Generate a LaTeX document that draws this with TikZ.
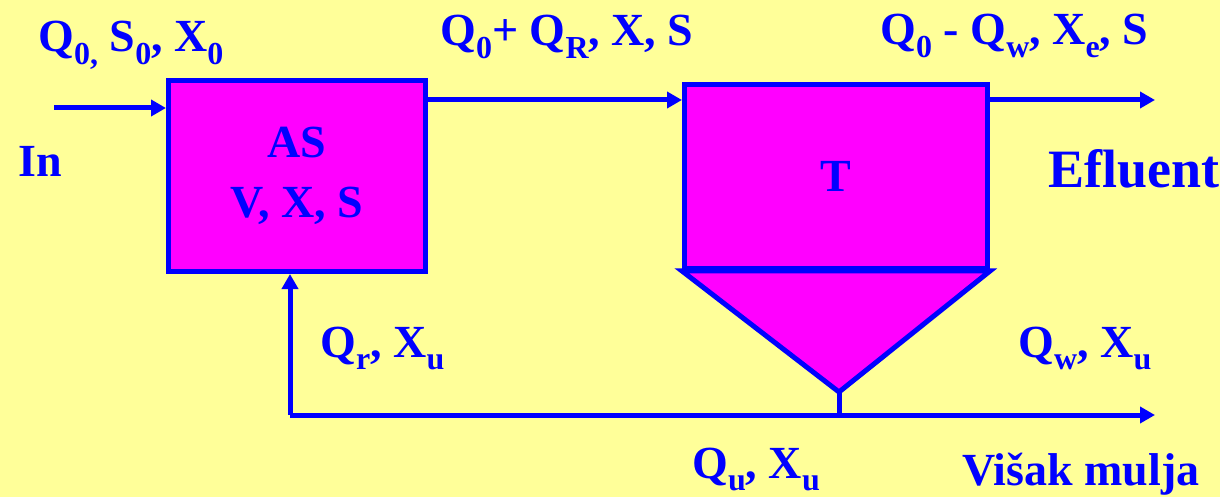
\documentclass[tikz,border=0pt]{standalone}
\usepackage{fontspec}
\setmainfont{Liberation Serif}
\usetikzlibrary{arrows.meta}
\definecolor{bgyellow}{HTML}{FFFF99}
\definecolor{tank}{HTML}{FF00FF}
\definecolor{ink}{HTML}{0000FF}
\newcommand{\low}[1]{\raisebox{-0.28em}{\fontsize{16}{16}\selectfont #1}}

\begin{document}
\begin{tikzpicture}[x=0.5pt, y=-0.5pt,
    txt/.style={text=ink, font=\bfseries\fontsize{23}{30}\selectfont, inner sep=0pt, anchor=base west},
    unit/.style={draw=ink, fill=tank, line width=2.5pt, text=ink, align=center,
        font=\bfseries\fontsize{23}{30}\selectfont},
    pipe/.style={draw=ink, line width=2.5pt},
    flow/.style={pipe, -{Triangle[length=7.5pt,width=8pt]}}
]
\useasboundingbox[fill=bgyellow] (0,0) rectangle (1220,497);

% aeration tank and settler
\node[unit, minimum width=128.5pt, minimum height=95.5pt] (as) at (297,176) {AS\\V, X, S};
\node[unit, minimum width=151.5pt, minimum height=92pt] (t) at (836,176.5) {T};
\coordinate (apex) at (839,392);
\draw[pipe, fill=tank] (t.south west) -- (t.south east) -- (apex) -- cycle;

% flows
\coordinate (in) at (54,108);
\coordinate (top) at (0,100);
\coordinate (eff) at (1155,100);
\coordinate (bl) at (290,415);
\coordinate (waste) at (1155,415);
\draw[flow] (in) -- (in -| as.west);
\draw[flow] (as.east |- top) -- (t.west |- top);
\draw[flow] (t.east |- eff) -- (eff);
\draw[pipe] (apex) -- (apex |- bl);
\draw[flow] (bl) -- (waste);
\draw[flow] (bl) -- (bl |- as.south);

% labels
\node[txt] (inlbl) at (38,52) {Q\low{0,} S\low{0}, X\low{0}};
\node[txt] (inname) at (18,177) {In};
\node[txt] (mixlbl) at (440,46) {Q\low{0}+ Q\low{R}, X, S};
\node[txt] (efflbl) at (880,45) {Q\low{0} - Q\low{w}, X\low{e}, S};
\node[txt, font=\bfseries\fontsize{27}{30}\selectfont] (effname) at (1048,188) {Efluent};
\node[txt] (retlbl) at (320,357) {Q\low{r}, X\low{u}};
\node[txt] (waslbl) at (1018,357) {Q\low{w}, X\low{u}};
\node[txt] (underlbl) at (692,478) {Q\low{u}, X\low{u}};
\node[txt] (wasname) at (962,485) {Višak mulja};
\end{tikzpicture}
\end{document}
